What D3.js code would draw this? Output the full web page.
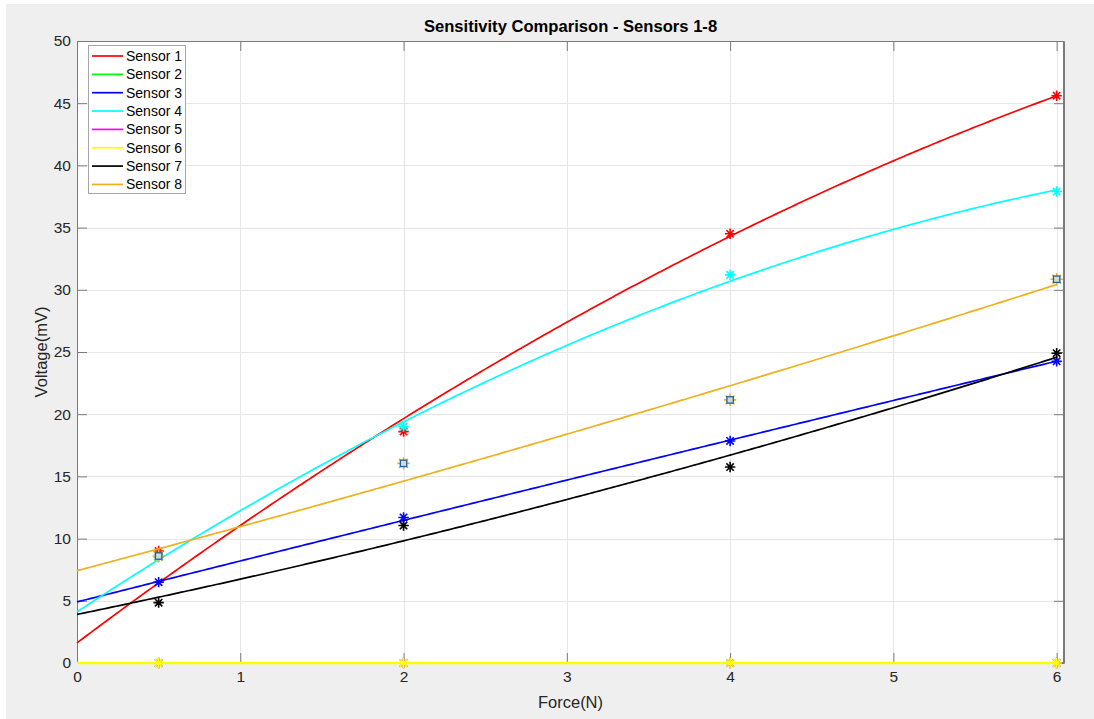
<!DOCTYPE html>
<html>
<head>
<meta charset="utf-8">
<script src="https://cdn.jsdelivr.net/npm/d3@7"></script>
<style>
  html, body { margin: 0; padding: 0; background: #ffffff; }
  svg { display: block; font-family: "Liberation Sans", Arial, Helvetica, sans-serif; }
</style>
</head>
<body>
<svg id="chart" width="1094" height="719"></svg>
<script>
// Measured forces (N)
const forces = [0.5, 2, 4, 6];

// Sensor names and line colours
const sensorNames = ["Sensor 1", "Sensor 2", "Sensor 3", "Sensor 4",
                     "Sensor 5", "Sensor 6", "Sensor 7", "Sensor 8"];
const sensorColors = ["#ff0000", "#00ff00", "#0000ff", "#00ffff",
                      "#ff00ff", "#ffff00", "#000000", "#edb120"];

// Measured output voltage (mV) per sensor at each force
const sensor1 = [9.0, 18.6, 34.5, 45.6];
const sensor2 = [0, 0, 0, 0];
const sensor3 = [6.5, 11.7, 17.85, 24.25];
const sensor4 = [8.5, 19.0, 31.2, 37.9];
const sensor5 = [0, 0, 0, 0];
const sensor6 = [0, 0, 0, 0];
const sensor7 = [4.85, 11.05, 15.75, 24.9];
const sensor8 = [8.6, 16.05, 21.15, 30.85];
const sensorData = [sensor1, sensor2, sensor3, sensor4, sensor5, sensor6, sensor7, sensor8];

// Quadratic fit coefficients per sensor: y = p0 + p1*x + p2*x^2
const fitP0 = [1.62, 0, 4.91, 4.11, 0, 0, 3.904, 7.42];
const fitP1 = [9.853, 0, 3.304, 8.628, 0, 0, 2.714, 3.483];
const fitP2 = [-0.4208, 0, -0.0131, -0.4957, 0, 0, 0.1219, 0.0585];

// Axis ticks
const xTicks = [0, 1, 2, 3, 4, 5, 6];
const yTicks = [0, 5, 10, 15, 20, 25, 30, 35, 40, 45, 50];
const xMax = 6.045;
const yMax = 50;

const svg = d3.select("#chart");
const W = 1094, H = 719;
const plot = { left: 77, right: 1064, top: 41, bottom: 663 };

const x = d3.scaleLinear().domain([0, xMax]).range([plot.left, plot.right]);
const y = d3.scaleLinear().domain([0, yMax]).range([plot.bottom, plot.top]);

// Figure background
svg.append("rect").attr("x", 6).attr("y", 4).attr("width", W - 6).attr("height", H - 4)
  .attr("fill", "#efefef");

// Axes background
svg.append("rect")
  .attr("x", plot.left).attr("y", plot.top)
  .attr("width", plot.right - plot.left).attr("height", plot.bottom - plot.top)
  .attr("fill", "#ffffff");

// Grid
const grid = svg.append("g").attr("stroke", "#e6e6e6").attr("stroke-width", 1);
grid.selectAll("line.gx").data(xTicks).join("line")
  .attr("x1", d => Math.round(x(d)) + 0.5).attr("x2", d => Math.round(x(d)) + 0.5)
  .attr("y1", plot.top).attr("y2", plot.bottom);
grid.selectAll("line.gy").data(yTicks).join("line")
  .attr("y1", d => Math.round(y(d)) + 0.5).attr("y2", d => Math.round(y(d)) + 0.5)
  .attr("x1", plot.left).attr("x2", plot.right);

// Axes with inward ticks on all four sides
const tickLen = 10;
const axisColor = "#7a7a7a";
const axB = svg.append("g").attr("transform", `translate(0,${plot.bottom})`)
  .call(d3.axisBottom(x).tickValues(xTicks).tickFormat(d3.format("d")).tickSizeInner(-tickLen).tickSizeOuter(0).tickPadding(8));
const axT = svg.append("g").attr("transform", `translate(0,${plot.top})`)
  .call(d3.axisTop(x).tickValues(xTicks).tickFormat("").tickSizeInner(-tickLen).tickSizeOuter(0));
const axL = svg.append("g").attr("transform", `translate(${plot.left},0)`)
  .call(d3.axisLeft(y).tickValues(yTicks).tickFormat(d3.format("d")).tickSizeInner(-tickLen).tickSizeOuter(0).tickPadding(6));
const axR = svg.append("g").attr("transform", `translate(${plot.right},0)`)
  .call(d3.axisRight(y).tickValues(yTicks).tickFormat("").tickSizeInner(-tickLen).tickSizeOuter(0));
[axB, axT, axL, axR].forEach(g => {
  g.select(".domain").attr("stroke", axisColor).attr("stroke-width", 1);
  g.selectAll(".tick line").attr("stroke", axisColor).attr("stroke-width", 1);
  g.selectAll(".tick text").attr("fill", "#262626").attr("font-size", "15.5px")
    .attr("font-family", "'Liberation Sans', Arial, sans-serif");
});

// Axes box
svg.append("rect")
  .attr("x", plot.left + 0.5).attr("y", plot.top + 0.5)
  .attr("width", plot.right - plot.left - 1).attr("height", plot.bottom - plot.top - 1)
  .attr("fill", "none").attr("stroke", axisColor).attr("stroke-width", 1);

// Clip for data
svg.append("clipPath").attr("id", "clip").append("rect")
  .attr("x", plot.left - 2).attr("y", plot.top - 8)
  .attr("width", plot.right - plot.left + 10).attr("height", plot.bottom - plot.top + 16);

const dataG = svg.append("g").attr("clip-path", "url(#clip)");

const curveX = d3.range(0, 6.0001, 0.02);
const line = d3.line().x(d => x(d[0])).y(d => y(d[1]));

function asterisk(g, cx, cy, color, r) {
  const d = r * 0.71;
  const p = `M${cx - r},${cy}L${cx + r},${cy}M${cx},${cy - r}L${cx},${cy + r}` +
            `M${cx - d},${cy - d}L${cx + d},${cy + d}M${cx - d},${cy + d}L${cx + d},${cy - d}`;
  g.append("path").attr("d", p).attr("stroke", color).attr("stroke-width", 1.6).attr("fill", "none");
}

sensorData.forEach((vals, i) => {
  const color = sensorColors[i];
  const g = dataG.append("g");
  // fitted curve
  const pts = curveX.map(xx => [xx, fitP0[i] + fitP1[i] * xx + fitP2[i] * xx * xx]);
  g.append("path").datum(pts).attr("d", line)
    .attr("fill", "none").attr("stroke", color).attr("stroke-width", i === 5 ? 2.4 : 1.7);
  // measured points
  vals.forEach((v, j) => {
    const cx = x(forces[j]), cy = y(v);
    if (i === 7) {
      asterisk(g, cx, cy, color, 6.2);
      g.append("rect").attr("x", cx - 3.2).attr("y", cy - 3.2).attr("width", 6.4).attr("height", 6.4)
        .attr("fill", "#cfdbdb").attr("stroke", "#1f6396").attr("stroke-width", 1.3);
    } else {
      asterisk(g, cx, cy, color, 5.2);
    }
  });
});

// Title and axis labels
svg.append("text").attr("x", (plot.left + plot.right) / 2).attr("y", 32)
  .attr("text-anchor", "middle").attr("font-weight", "bold").attr("font-size", "16.6px")
  .attr("fill", "#000000").text("Sensitivity Comparison - Sensors 1-8");
svg.append("text").attr("x", (plot.left + plot.right) / 2).attr("y", 708)
  .attr("text-anchor", "middle").attr("font-size", "16.5px").attr("fill", "#262626")
  .text("Force(N)");
svg.append("text")
  .attr("transform", `translate(47,${(plot.top + plot.bottom) / 2}) rotate(-90)`)
  .attr("text-anchor", "middle").attr("font-size", "16.5px").attr("fill", "#262626")
  .text("Voltage(mV)");

// Legend
const leg = svg.append("g");
leg.append("rect").attr("x", 88.5).attr("y", 45.5).attr("width", 97).attr("height", 148)
  .attr("fill", "#ffffff").attr("stroke", "#a6a6a6").attr("stroke-width", 1);
sensorNames.forEach((name, i) => {
  const cy = 56 + i * 18.35;
  leg.append("line").attr("x1", 92).attr("x2", 123).attr("y1", cy).attr("y2", cy)
    .attr("stroke", sensorColors[i]).attr("stroke-width", 1.7);
  leg.append("text").attr("x", 126).attr("y", cy + 5)
    .attr("font-size", "14px").attr("fill", "#000000").text(name);
});
</script>
</body>
</html>
